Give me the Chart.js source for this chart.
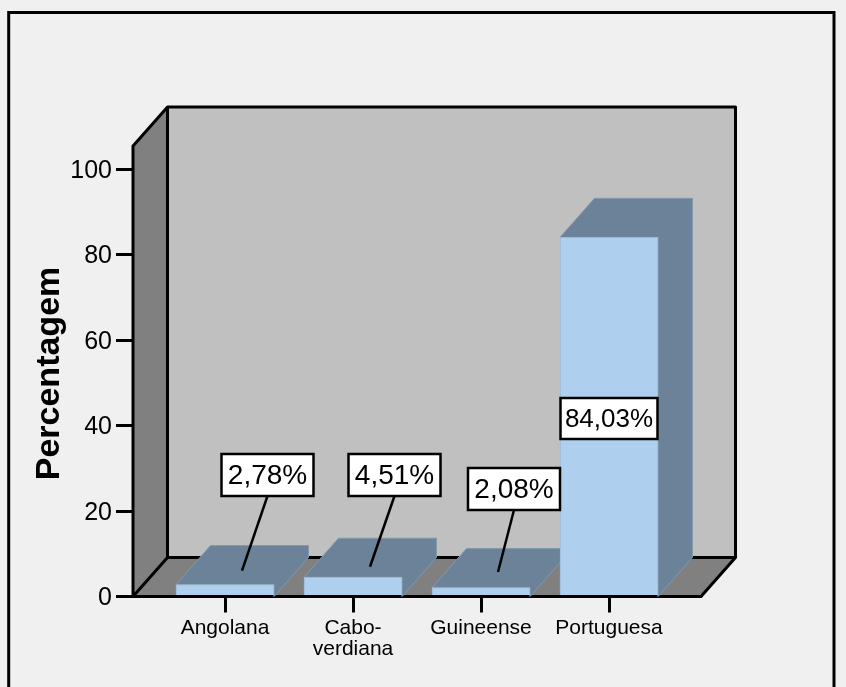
<!DOCTYPE html>
<html>
<head>
<meta charset="utf-8">
<title>Percentagem</title>
<script src="https://cdn.jsdelivr.net/npm/chart.js@4"></script>
<style>
  html, body { margin: 0; padding: 0; background: #f0f0f0; overflow: hidden; }
  canvas { display: block; }
</style>
</head>
<body>
<canvas id="chart" width="846" height="687"></canvas>
<script>
// dados
const categories = ['Angolana', 'Cabo-\nverdiana', 'Guineense', 'Portuguesa'];
const values = [2.78, 4.51, 2.08, 84.03];
const valueLabels = ['2,78%', '4,51%', '2,08%', '84,03%'];
const yTicks = [0, 20, 40, 60, 80, 100];

// caixas das etiquetas: dx a partir do centro da barra, linha ate ao topo da barra
const labelBoxes = [
  { dx: 42.5, y: 454, w: 92, h: 42, size: 28, lineToDx: 17, lineToDy: -14 },
  { dx: 41.5, y: 454, w: 92, h: 42, size: 28, lineToDx: 17, lineToDy: -10.5 },
  { dx: 33, y: 468, w: 92, h: 42, size: 28, lineToDx: 17, lineToDy: -15.6 },
  { dx: 0, y: 398, w: 97, h: 41, size: 26 }
];

const depthX = 34.5, depthY = -39;
const axisFont = '"Liberation Sans", Arial, sans-serif';

function poly(ctx, pts, fill, stroke) {
  ctx.beginPath();
  pts.forEach((p, i) => i ? ctx.lineTo(p[0], p[1]) : ctx.moveTo(p[0], p[1]));
  ctx.closePath();
  if (fill) { ctx.fillStyle = fill; ctx.fill(); }
  if (stroke) { ctx.strokeStyle = stroke; ctx.lineWidth = 1; ctx.stroke(); }
}

// paredes e chao em 3D, mais topo e lado das barras
const box3d = {
  id: 'box3d',
  beforeDatasetsDraw(chart) {
    const { ctx, chartArea: a } = chart;
    const L = a.left, R = a.right, T = a.top, B = a.bottom;
    const bl = L + depthX, br = R + depthX, bt = T + depthY, bb = B + depthY;
    ctx.save();
    poly(ctx, [[bl, bt], [br, bt], [br, bb], [bl, bb]], '#c0c0c0');
    poly(ctx, [[L, T], [bl, bt], [bl, bb], [L, B]], '#808080');
    poly(ctx, [[L, B], [bl, bb], [br, bb], [R, B]], '#808080');
    ctx.strokeStyle = '#000';
    ctx.lineWidth = 3;
    ctx.lineJoin = 'round';
    ctx.beginPath();
    ctx.moveTo(L, B); ctx.lineTo(L, T); ctx.lineTo(bl, bt); ctx.lineTo(br, bt); ctx.lineTo(br, bb);
    ctx.lineTo(R, B); ctx.lineTo(L, B); ctx.lineTo(bl, bb); ctx.lineTo(br, bb);
    ctx.moveTo(bl, bt); ctx.lineTo(bl, bb);
    ctx.stroke();

    // topo e lado com a mesma cor, so o contorno exterior fica mais claro
    const side = '#6b8299', edge = '#8299ae';
    chart.getDatasetMeta(0).data.forEach(bar => {
      const x0 = bar.x - bar.width / 2, x1 = bar.x + bar.width / 2;
      poly(ctx, [
        [x0, bar.y], [x0 + depthX, bar.y + depthY], [x1 + depthX, bar.y + depthY],
        [x1 + depthX, B + depthY], [x1, B], [x1, bar.y]
      ], side, edge);
    });
    ctx.restore();
  },
  afterDatasetsDraw(chart) {
    const { ctx } = chart;
    ctx.save();
    chart.getDatasetMeta(0).data.forEach((bar, i) => {
      const b = labelBoxes[i];
      const cx = bar.x + b.dx;
      if (b.lineToDx) {
        ctx.strokeStyle = '#000';
        ctx.lineWidth = 2.5;
        ctx.beginPath();
        ctx.moveTo(cx, b.y + b.h);
        ctx.lineTo(bar.x + b.lineToDx, bar.y + b.lineToDy);
        ctx.stroke();
      }
      ctx.fillStyle = '#fff';
      ctx.strokeStyle = '#000';
      ctx.lineWidth = 2.5;
      ctx.fillRect(cx - b.w / 2, b.y, b.w, b.h);
      ctx.strokeRect(cx - b.w / 2, b.y, b.w, b.h);
      ctx.fillStyle = '#000';
      ctx.font = b.size + 'px ' + axisFont;
      ctx.textAlign = 'center';
      ctx.textBaseline = 'middle';
      ctx.fillText(valueLabels[i], cx, b.y + b.h / 2 + 1);
    });
    // moldura exterior
    ctx.strokeStyle = '#000';
    ctx.lineWidth = 3;
    ctx.beginPath();
    ctx.moveTo(8.7, 690); ctx.lineTo(8.7, 12.5); ctx.lineTo(834, 12.5); ctx.lineTo(834, 690);
    ctx.stroke();
    // titulo do eixo
    ctx.translate(58.7, 373.5);
    ctx.rotate(-Math.PI / 2);
    ctx.font = 'bold 34px ' + axisFont;
    ctx.textAlign = 'center';
    ctx.textBaseline = 'alphabetic';
    ctx.fillStyle = '#000';
    ctx.fillText('Percentagem', 0, 0);
    ctx.restore();
  }
};

new Chart(document.getElementById('chart'), {
  type: 'bar',
  data: {
    datasets: [{
      data: values.map((v, i) => ({ x: i, y: v })),
      backgroundColor: '#aed0ee',
      borderColor: '#9bb8d4',
      borderWidth: 1,
      barThickness: 98
    }]
  },
  options: {
    responsive: false,
    animation: false,
    layout: { padding: { top: 146, right: 145 } },
    plugins: { legend: { display: false }, tooltip: { enabled: false } },
    scales: {
      x: {
        type: 'linear',
        offset: false,
        min: -0.71875,
        max: 3.71875,
        afterFit(scale) { scale.height = 90.5; },
        afterBuildTicks(scale) { scale.ticks = categories.map((c, i) => ({ value: i })); },
        border: { display: false },
        grid: { offset: false, drawOnChartArea: false, drawTicks: true, tickLength: 16, color: '#000', lineWidth: 3 },
        ticks: {
          autoSkip: false,
          maxRotation: 0,
          padding: 5,
          color: '#000',
          font: { family: axisFont, size: 21, lineHeight: 1.0 },
          callback: v => categories[v].split('\n')
        }
      },
      y: {
        min: 0,
        max: 105.4,
        afterFit(scale) { scale.width = 133; },
        afterBuildTicks(scale) { scale.ticks = yTicks.map(v => ({ value: v })); },
        border: { display: false },
        grid: { drawOnChartArea: false, drawTicks: true, tickLength: 17, color: '#000', lineWidth: 3 },
        ticks: {
          padding: 4,
          labelOffset: 2,
          color: '#000',
          font: { family: axisFont, size: 25 }
        }
      }
    }
  },
  plugins: [box3d]
});
</script>
</body>
</html>
